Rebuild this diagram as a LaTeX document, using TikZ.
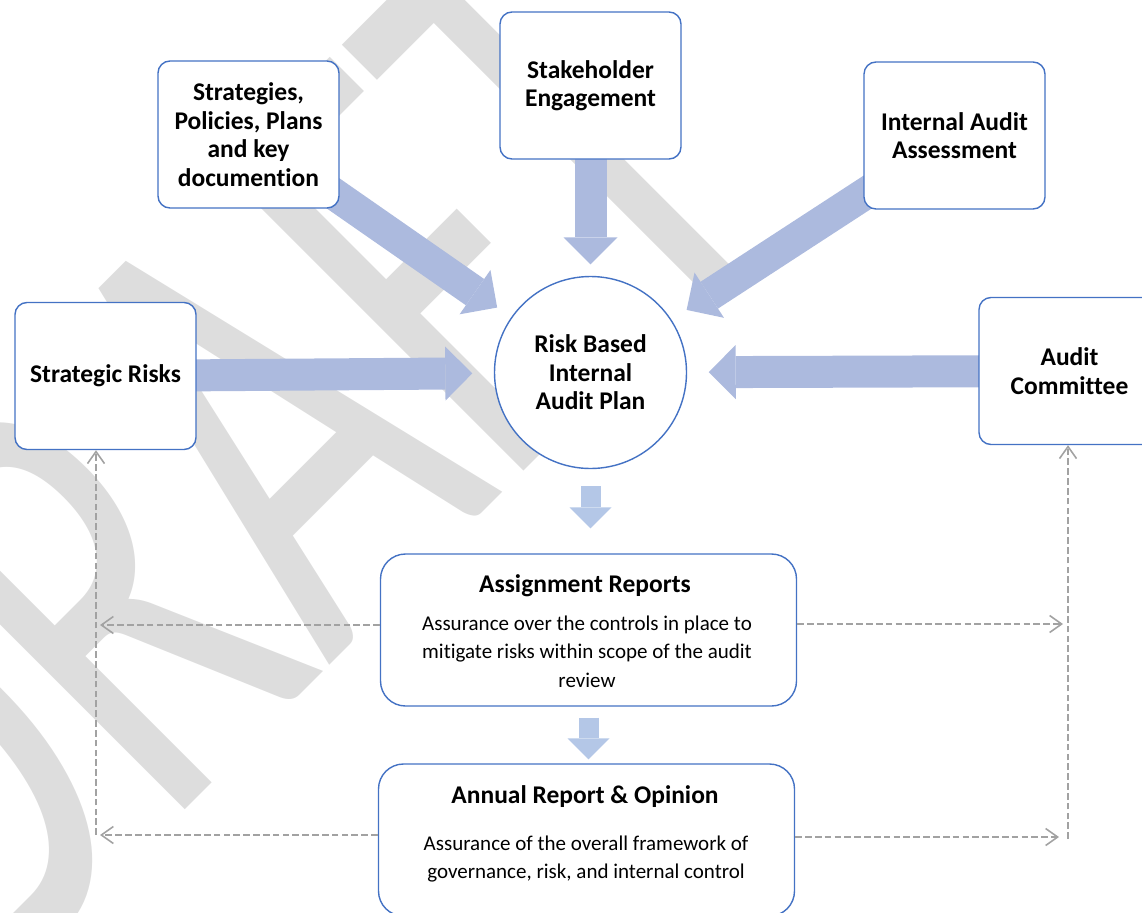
\documentclass[tikz,border=0pt]{standalone}
\usepackage{fontspec}
\setmainfont{Carlito}[Ligatures=NoCommon]
\usetikzlibrary{arrows.meta,backgrounds}

\definecolor{boxblue}{RGB}{68,114,196}
\definecolor{flowblue}{RGB}{172,186,222}
\definecolor{stepblue}{RGB}{180,199,231}
\definecolor{dashgray}{RGB}{162,162,162}
\definecolor{draftgray}{RGB}{221,221,221}

\pgfdeclarelayer{watermark}
\pgfsetlayers{watermark,background,main}

\tikzset{
  smallbox/.style={draw=boxblue, line width=0.8pt, fill=white, rounded corners=0.24cm,
    minimum width=3.62cm, minimum height=2.94cm, inner sep=0pt, align=center,
    font=\fontsize{14.5}{16.2}\selectfont\bfseries},
  plancircle/.style={circle, draw=boxblue, line width=0.8pt, fill=white,
    minimum size=3.84cm, inner sep=0pt, align=center,
    font=\fontsize{14.5}{16.2}\selectfont\bfseries},
  reportbox/.style={draw=boxblue, line width=0.8pt, fill=white, rounded corners=0.5cm,
    minimum width=8.32cm, minimum height=3.04cm},
  titletext/.style={inner sep=0pt, font=\fontsize{14.5}{16.2}\selectfont\bfseries},
  bodytext/.style={inner sep=0pt, align=center, font=\fontsize{11.95}{16.2}\selectfont},
  feed/.style={draw=flowblue, line width=0.64cm,
    -{Triangle[width=1.08cm,length=0.54cm,line width=0pt]}},
  flowdown/.style={draw=stepblue, line width=0.4cm,
    -{Triangle[width=0.84cm,length=0.42cm,line width=0pt]}},
  backlink/.style={draw=dashgray, line width=0.9pt, dash pattern=on 3.8pt off 1.8pt,
    -{Straight Barb[length=0.24cm,width=0.34cm]}},
}

\begin{document}
\begin{tikzpicture}
  \useasboundingbox (0,0) rectangle (22.84,-18.24);

  % DRAFT watermark behind everything
  \begin{pgfonlayer}{watermark}
    \begin{scope}[shift={(-0.46,-20.36)}, rotate=45]
      \node[anchor=base west, inner sep=0pt, xscale=0.64, transform shape,
        text=draftgray, font=\fontsize{381}{381}\selectfont] (draft) at (0,0) {DRAFT};
    \end{scope}
  \end{pgfonlayer}

  % Inputs to the plan
  \node[smallbox] (strat) at (4.97,-2.69) {Strategies,\\Policies, Plans\\and key\\documention};
  \node[smallbox] (stake) at (11.81,-1.71) {Stakeholder\\Engagement};
  \node[smallbox] (iaa) at (19.09,-2.71) {Internal Audit\\Assessment};
  \node[smallbox] (srisk) at (2.11,-7.52) {Strategic Risks};
  \node[smallbox] (ac) at (21.39,-7.42) {Audit\\Committee};

  % The plan itself
  \node[plancircle] (risk) at (11.81,-7.45) {Risk Based\\Internal\\Audit Plan};

  % Assignment reports
  \node[reportbox] (assign) at (11.77,-12.6) {};
  \node[titletext] (assigntitle) at (11.7,-11.72) {Assignment Reports};
  \node[bodytext] (assigntext) at (11.74,-13.03) {Assurance over the controls in place to\\mitigate risks within scope of the audit\\review};

  % Annual report
  \node[reportbox] (annual) at (11.73,-16.8) {};
  \node[titletext] (annualtitle) at (11.7,-15.94) {Annual Report \& Opinion};
  \node[bodytext] (annualtext) at (11.72,-17.18) {Assurance of the overall framework of\\governance, risk, and internal control};

  % Big arrows into the plan
  \begin{scope}[on background layer]
    \draw[feed, shorten >=0.34cm] (strat.center) -- (risk);
    \draw[feed, shorten >=0.23cm] (stake.center) -- (risk);
    \draw[feed, shorten >=0.36cm] (iaa.center) -- (risk);
    \draw[feed, shorten >=0.43cm] (srisk.center) -- (risk);
    \draw[feed, shorten >=0.43cm] (ac.center) -- (risk);
  \end{scope}

  % Down the chain
  \draw[flowdown, shorten <=0.34cm, shorten >=0.5cm] (risk.south) -- (risk.south |- assign.north);
  \draw[flowdown, shorten <=0.22cm, shorten >=0.08cm] (assign.south) -- (assign.south |- annual.north);

  % Reporting back (dashed)
  \coordinate (lup) at (2.0,-12.5);
  \coordinate (ldown) at (2.0,-16.7);
  \coordinate (lcorner) at (1.92,-16.7);
  \coordinate (rup) at (21.26,-12.48);
  \coordinate (rdown) at (21.18,-16.74);
  \coordinate (rcorner) at (21.36,-16.78);

  \draw[backlink] (lup -| assign.west) -- (lup);
  \draw[backlink] (ldown -| annual.west) -- (ldown);
  \draw[backlink] (lcorner) -- (lcorner |- srisk.south);
  \draw[backlink] (rup -| assign.east) -- (rup);
  \draw[backlink] (rdown -| annual.east) -- (rdown);
  \draw[backlink] (rcorner) -- (rcorner |- ac.south);
\end{tikzpicture}
\end{document}
